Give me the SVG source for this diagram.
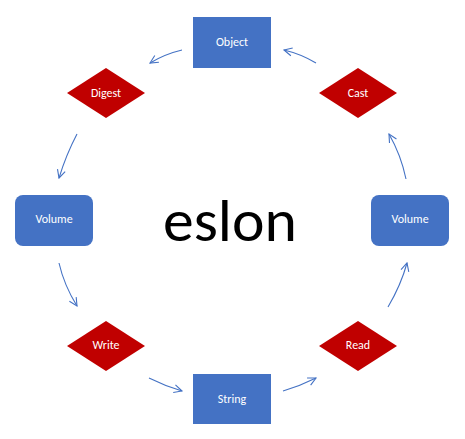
<svg xmlns="http://www.w3.org/2000/svg" width="465" height="439" viewBox="0 0 465 439">
<defs>
<style>
.box{fill:#4472C4}
.dia{fill:#C00000}
.lbl{fill:#fff;font-family:Carlito,Calibri,Lato,"Open Sans",sans-serif;font-size:12px;text-anchor:middle;dominant-baseline:central}
.con{fill:none;stroke:#4472C4;stroke-width:1.1;marker-end:url(#arr)}
</style>
<marker id="arr" markerWidth="10" markerHeight="10" refX="9" refY="5" orient="auto" markerUnits="userSpaceOnUse">
<path d="M1,1 L9,5 L1,9" fill="none" stroke="#4472C4" stroke-width="1.1"/>
</marker>
</defs>
<rect width="465" height="439" fill="#fff"/>
<g id="connectors">
<path class="con" d="M182,50 Q165,54 150,63"/>
<path class="con" d="M316,63 Q301,54 284,50"/>
<path class="con" d="M77,134 Q66,155 59,178"/>
<path class="con" d="M59,263 Q64,285 77,306"/>
<path class="con" d="M149,378 Q165,386 182,391"/>
<path class="con" d="M283,391 Q300,386 316,378"/>
<path class="con" d="M388,307 Q401,285 407,263"/>
<path class="con" d="M406,179 Q401,155 389,134"/>
</g>
<g id="object"><rect class="box" x="193" y="17" width="78" height="51"/><text class="lbl" x="232" y="42">Object</text></g>
<g id="digest"><polygon class="dia" points="106,68 145,93 106,118 67,93"/><text class="lbl" x="106" y="92.5">Digest</text></g>
<g id="cast"><polygon class="dia" points="358,68 397,93 358,118 319,93"/><text class="lbl" x="358" y="92.5">Cast</text></g>
<g id="volume-left"><rect class="box" x="15" y="195" width="78" height="51" rx="8"/><text class="lbl" x="54" y="219">Volume</text></g>
<g id="volume-right"><rect class="box" x="371" y="195" width="78" height="51" rx="8"/><text class="lbl" x="410" y="219">Volume</text></g>
<g id="write"><polygon class="dia" points="106,321 145,346 106,371 67,346"/><text class="lbl" x="106" y="344.5">Write</text></g>
<g id="read"><polygon class="dia" points="358,321 397,346 358,371 319,346"/><text class="lbl" x="358" y="344.5">Read</text></g>
<g id="string"><rect class="box" x="193" y="374" width="78" height="50"/><text class="lbl" x="232" y="398.5">String</text></g>
<text x="163" y="241" font-family="Carlito,Calibri,Lato,'Open Sans',sans-serif" font-size="60" fill="#000" textLength="134" lengthAdjust="spacingAndGlyphs">eslon</text>
</svg>
